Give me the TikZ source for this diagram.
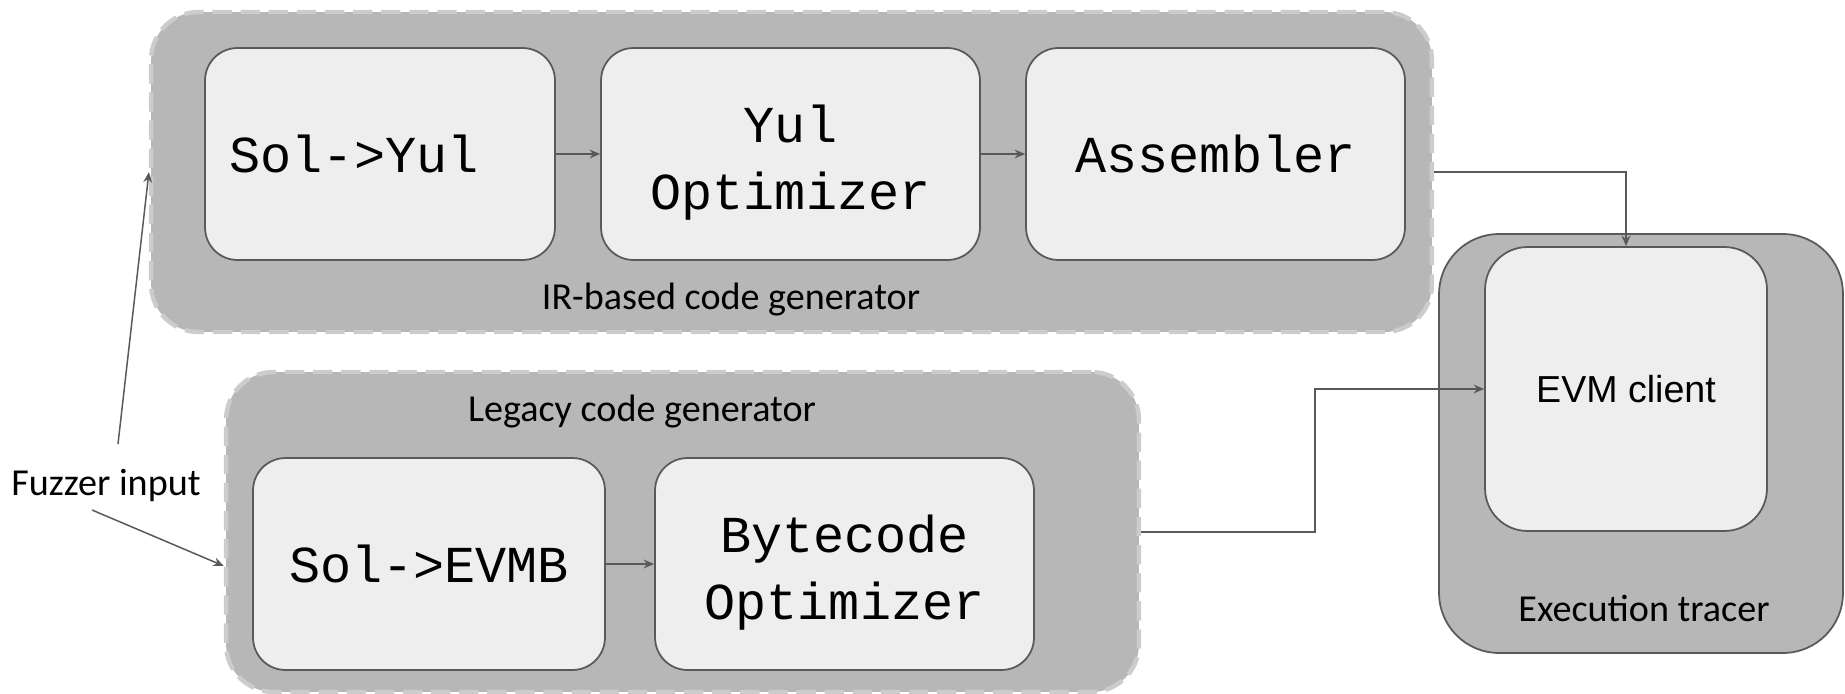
\documentclass[tikz,border=0pt]{standalone}
\usepackage{fontspec}
\setmainfont{Carlito}
\newfontfamily\codefont{Liberation Mono}
\newfontfamily\arialfont{Liberation Sans}
\usetikzlibrary{positioning,arrows.meta}
\definecolor{linegray}{HTML}{595959}
\definecolor{boxfill}{HTML}{EEEEEE}
\definecolor{groupfill}{HTML}{B7B7B7}
\definecolor{dashgray}{HTML}{CCCCCC}

\tikzset{
  stagebox/.style={draw=linegray, fill=boxfill, line width=1pt, rounded corners=0.65cm,
    align=center, inner sep=0pt, minimum width=7.58cm, minimum height=4.24cm,
    font=\codefont\fontsize{29.5}{38}\selectfont},
  groupbox/.style={fill=groupfill, draw=dashgray, line width=2.5pt,
    dash pattern=on 11pt off 5pt, rounded corners=0.95cm, inner sep=0pt, minimum height=6.4cm},
  grouplabel/.style={font=\fontsize{21.7}{26}\selectfont},
  flow/.style={draw=linegray, line width=0.85pt, -{Stealth[length=6pt,width=5pt]}}
}

\begin{document}
\begin{tikzpicture}[x=0.02cm,y=-0.02cm]
\useasboundingbox (0,0) rectangle (1845,693);

% Groups
\node[groupbox, minimum width=25.62cm] (ir) at (791.5,172) {};
\node[groupbox, minimum width=18.26cm] (legacy) at (682.5,532) {};
\node[draw=linegray, fill=groupfill, line width=1pt, rounded corners=1.2cm,
  minimum width=8.08cm, minimum height=8.38cm, inner sep=0pt] (tracer) at (1641,443.5) {};

% Stages
\node[stagebox, minimum width=7cm] (solyul) at (380,154) {Sol->Yul\hspace*{1em}};
\node[stagebox] (yulopt) at (790.5,154) {\rule{0pt}{0.5em}\\[-21.65pt]Yul\\Optimizer};
\node[stagebox] (asm) at (1215.5,154) {Assembler};
\node[stagebox, minimum width=7.04cm] (solevmb) at (429,564) {Sol->EVMB};
\node[stagebox] (bcopt) at (844.5,564) {\rule{0pt}{0.5em}\\[-21.65pt]Bytecode\\Optimizer};
\node[stagebox, rounded corners=0.85cm, minimum width=5.64cm, minimum height=5.68cm,
  font=\arialfont\fontsize{21.4}{25}\selectfont] (evm) at (1626,389) {EVM client};

% Labels
\node[grouplabel] (irlabel) at (731,300) {IR-based code generator};
\node[grouplabel] (legacylabel) at (642,412) {Legacy code generator};
\node[grouplabel] (tracerlabel) at (1644,608) {Execution tracer};
\node[grouplabel] (fuzz) at (106,485) {Fuzzer input};

% Connectors
\draw[flow] (solyul) -- (yulopt);
\draw[flow] (yulopt) -- (asm);
\draw[flow] (solevmb) -- (bcopt);
\draw[flow] (ir.east) -| (evm.north);
\draw[flow] (legacy.east) -- ++(174,0) |- (evm.west);
\coordinate (fuzzup) at (118,444);
\coordinate (fuzzdown) at (92,510);
\draw[flow] (fuzzup) -- (ir.west);
\draw[flow] (fuzzdown) -- ([yshift=-0.68cm]legacy.west);

\end{tikzpicture}
\end{document}
